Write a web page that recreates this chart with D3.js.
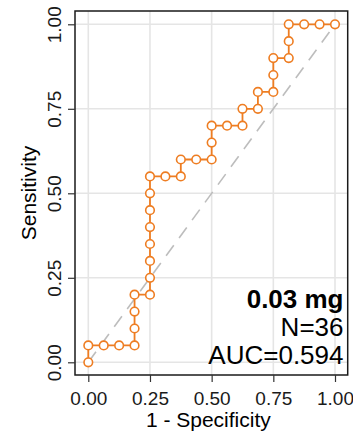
<!DOCTYPE html>
<html>
<head>
<meta charset="utf-8">
<script src="https://cdn.jsdelivr.net/npm/d3@7"></script>
<style>
  body { margin: 0; background: #fff; }
  text { font-family: "Liberation Sans", Arial, sans-serif; }
</style>
</head>
<body>
<svg width="353" height="432"></svg>
<script>
// ROC points (1 - specificity, sensitivity)
var fpr = [0, 0, 0.0625, 0.125, 0.1875, 0.1875, 0.1875, 0.1875, 0.25, 0.25, 0.25, 0.25, 0.25, 0.25, 0.25, 0.25,
           0.3125, 0.375, 0.375, 0.4375, 0.5, 0.5, 0.5, 0.5625, 0.625, 0.625, 0.6875, 0.6875, 0.75, 0.75, 0.75,
           0.8125, 0.8125, 0.8125, 0.875, 0.9375, 1];
var tpr = [0, 0.05, 0.05, 0.05, 0.05, 0.1, 0.15, 0.2, 0.2, 0.25, 0.3, 0.35, 0.4, 0.45, 0.5, 0.55,
           0.55, 0.55, 0.6, 0.6, 0.6, 0.65, 0.7, 0.7, 0.7, 0.75, 0.75, 0.8, 0.8, 0.85, 0.9,
           0.9, 0.95, 1, 1, 1, 1];
var tickValues = [0, 0.25, 0.5, 0.75, 1];
var tickLabels = ["0.00", "0.25", "0.50", "0.75", "1.00"];
var labelLines = ["0.03 mg", "N=36", "AUC=0.594"];

var data = fpr.map(function(d, i) { return {x: d, y: tpr[i]}; });

var svg = d3.select("svg");

var panel = {left: 75, top: 11, right: 347.7, bottom: 375};

var xScale = d3.scaleLinear()
  .domain([0, 1])
  .range([88.3, 335]);
var yScale = d3.scaleLinear()
  .domain([0, 1])
  .range([362.3, 24.3]);

var orange = "#EE7D22";

// grid
var grid = svg.append("g");
grid.selectAll(".gx")
  .data(tickValues)
  .enter()
  .append("line")
  .attr("x1", function(d) { return xScale(d); })
  .attr("x2", function(d) { return xScale(d); })
  .attr("y1", panel.top)
  .attr("y2", panel.bottom)
  .attr("stroke", "#e5e5e5")
  .attr("stroke-width", 1.6);
grid.selectAll(".gy")
  .data(tickValues)
  .enter()
  .append("line")
  .attr("y1", function(d) { return yScale(d); })
  .attr("y2", function(d) { return yScale(d); })
  .attr("x1", panel.left)
  .attr("x2", panel.right)
  .attr("stroke", "#e5e5e5")
  .attr("stroke-width", 1.6);

// chance line
svg.append("line")
  .attr("x1", xScale(0)).attr("y1", yScale(0))
  .attr("x2", xScale(1)).attr("y2", yScale(1))
  .attr("stroke", "#bdbdbd")
  .attr("stroke-width", 1.6)
  .attr("stroke-dasharray", "13,9");

// ROC path
var line = d3.line()
  .x(function(d) { return xScale(d.x); })
  .y(function(d) { return yScale(d.y); });

svg.append("path")
  .datum(data)
  .attr("d", line)
  .attr("fill", "none")
  .attr("stroke", orange)
  .attr("stroke-width", 1.8);

svg.selectAll("circle")
  .data(data)
  .enter()
  .append("circle")
  .attr("cx", function(d) { return xScale(d.x); })
  .attr("cy", function(d) { return yScale(d.y); })
  .attr("r", 4.3)
  .attr("fill", "white")
  .attr("stroke", orange)
  .attr("stroke-width", 1.6);

// annotation
svg.append("g")
  .selectAll("text")
  .data(labelLines)
  .enter()
  .append("text")
  .attr("x", 343.5)
  .attr("y", function(d, i) { return 307.5 + i * 28; })
  .attr("text-anchor", "end")
  .attr("font-size", 26)
  .attr("font-weight", function(d, i) { return i == 0 ? "bold" : "normal"; })
  .attr("fill", "#000")
  .text(function(d) { return d; });

// panel border
svg.append("rect")
  .attr("x", panel.left)
  .attr("y", panel.top)
  .attr("width", panel.right - panel.left)
  .attr("height", panel.bottom - panel.top)
  .attr("fill", "none")
  .attr("stroke", "#1a1a1a")
  .attr("stroke-width", 1.5);

// axes
var xAxis = d3.axisBottom(xScale)
  .tickValues(tickValues)
  .tickFormat(function(d, i) { return tickLabels[i]; })
  .tickSize(7)
  .tickPadding(10);
var yAxis = d3.axisLeft(yScale)
  .tickValues(tickValues)
  .tickFormat(function(d, i) { return tickLabels[i]; })
  .tickSize(7)
  .tickPadding(5);

var gx = svg.append("g")
  .attr("transform", "translate(0," + panel.bottom + ")")
  .call(xAxis);
gx.select(".domain").remove();
gx.selectAll(".tick line").attr("stroke", "#333").attr("stroke-width", 1.2);
gx.selectAll(".tick text")
  .attr("font-size", 19)
  .attr("font-family", "Liberation Sans, Arial, sans-serif")
  .attr("fill", "#1a1a1a");

var gy = svg.append("g")
  .attr("transform", "translate(" + panel.left + ",0)")
  .call(yAxis);
gy.select(".domain").remove();
gy.selectAll(".tick line").attr("stroke", "#333").attr("stroke-width", 1.2);
gy.selectAll(".tick text")
  .attr("font-size", 19)
  .attr("font-family", "Liberation Sans, Arial, sans-serif")
  .attr("fill", "#1a1a1a")
  .attr("text-anchor", "middle")
  .attr("dy", 0)
  .attr("x", 0)
  .attr("transform", "translate(-14,0) rotate(-90)");

// axis titles
svg.append("text")
  .attr("x", (panel.left + panel.right) / 2 - 3)
  .attr("y", 427)
  .attr("text-anchor", "middle")
  .attr("font-size", 21)
  .text("1 - Specificity");

svg.append("text")
  .attr("transform", "translate(36," + ((panel.top + panel.bottom) / 2) + ") rotate(-90)")
  .attr("text-anchor", "middle")
  .attr("font-size", 21)
  .text("Sensitivity");
</script>
</body>
</html>
